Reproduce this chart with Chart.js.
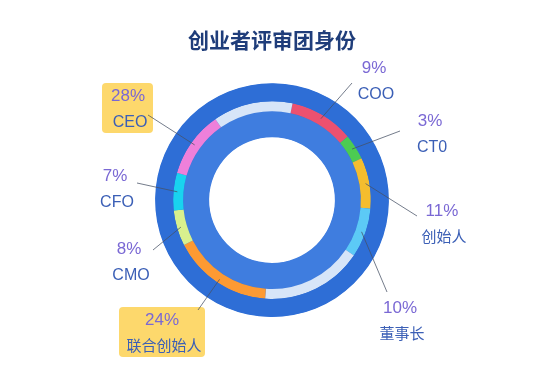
<!DOCTYPE html>
<html>
<head>
<meta charset="utf-8">
<script src="https://cdn.jsdelivr.net/npm/chart.js@4/dist/chart.umd.min.js"></script>
<style>
  html, body { margin: 0; padding: 0; background: #ffffff; }
  #wrap { width: 550px; height: 376px; }
</style>
</head>
<body>
<div id="wrap"><canvas id="myChart" width="550" height="376"></canvas></div>
<script>
const ringLabels = ["COO", "CT0", "创始人", "董事长", "", "联合创始人", "CMO", "CFO", "CEO", ""];
const ringArcs = [38, 15, 30, 29, 60, 59, 21, 22, 39, 47];
const ringColors = ["#ec5170", "#4ccb52", "#f4bd2e", "#5ccaf6", "#d7e5f8", "#fd9a33", "#d8f08e", "#19d3ef", "#ee80da", "#d7e5f8"];

// etiquetas de porcentaje
const roles = ["COO", "CT0", "创始人", "董事长", "CEO", "CFO", "CMO", "联合创始人"];
const shares = [9, 3, 11, 10, 28, 7, 8, 24];
const highlighted = ["CEO", "联合创始人"];

// posición de cada etiqueta (centro del texto %) y extremo de la línea guía
const labelLayout = {
  "COO": { x: 374, y: 68, lx: 352, ly: 83 },
  "CT0": { x: 430, y: 121, lx: 400, ly: 131 },
  "创始人": { x: 442, y: 211, lx: 417, ly: 216 },
  "董事长": { x: 400, y: 308, lx: 387, ly: 292 },
  "CEO": { x: 128, y: 96, lx: 148, ly: 115 },
  "CFO": { x: 115, y: 176, lx: 137, ly: 183 },
  "CMO": { x: 129, y: 249, lx: 153, ly: 250 },
  "联合创始人": { x: 162, y: 320, lx: 198, ly: 310 },
};
const boxes = {
  "CEO": { x: 102, y: 83, w: 51, h: 50 },
  "联合创始人": { x: 119, y: 307, w: 86, h: 50 },
};

const fontFamily = "'Liberation Sans', 'Noto Sans CJK SC', sans-serif";

// disco azul de fondo para que no se vean costuras entre anillos
const fondoPlugin = {
  id: "fondo",
  beforeDatasetsDraw(chart) {
    const arc = chart.getDatasetMeta(0).data[0];
    const inner = chart.getDatasetMeta(2).data[0];
    const ctx = chart.ctx;
    ctx.save();
    ctx.fillStyle = "#2e6ed6";
    ctx.beginPath();
    ctx.arc(arc.x, arc.y, arc.outerRadius - 0.5, 0, Math.PI * 2);
    ctx.arc(arc.x, arc.y, inner.innerRadius + 0.5, 0, Math.PI * 2, true);
    ctx.fill();
    ctx.restore();
  },
};

const etiquetasPlugin = {
  id: "etiquetas",
  afterDatasetsDraw(chart) {
    const ctx = chart.ctx;
    const meta = chart.getDatasetMeta(1);
    ctx.save();
    roles.forEach((role, i) => {
      const pos = labelLayout[role];
      const arc = meta.data[ringLabels.indexOf(role)];
      const mid = (arc.startAngle + arc.endAngle) / 2;
      const r = 95;
      // caja amarilla
      if (highlighted.includes(role)) {
        const b = boxes[role];
        ctx.fillStyle = "#fdd86c";
        ctx.beginPath();
        ctx.roundRect(b.x, b.y, b.w, b.h, 4);
        ctx.fill();
      }
      // línea guía
      ctx.strokeStyle = "rgba(70, 80, 100, 0.75)";
      ctx.lineWidth = 1;
      ctx.beginPath();
      ctx.moveTo(pos.lx, pos.ly);
      ctx.lineTo(arc.x + Math.cos(mid) * r, arc.y + Math.sin(mid) * r);
      ctx.stroke();
      // textos
      ctx.textAlign = "center";
      ctx.textBaseline = "middle";
      ctx.fillStyle = "#7a68d4";
      ctx.font = "17px " + fontFamily;
      ctx.fillText(shares[i] + "%", pos.x, pos.y);
      ctx.fillStyle = "#3b5fb6";
      ctx.font = (/^[A-Z0-9]+$/.test(role) ? "16px " : "15px ") + fontFamily;
      ctx.fillText(role, pos.x + 2, pos.y + 27);
    });
    ctx.restore();
  },
};

function innerGradient(context) {
  const chart = context.chart;
  const meta = chart.getDatasetMeta(2);
  const arc = meta.data[0];
  if (!arc || !arc.x) return "#3f7ddf";
  const g = chart.ctx.createRadialGradient(arc.x, arc.y, arc.innerRadius, arc.x, arc.y, arc.outerRadius);
  g.addColorStop(0, "#5a94e8");
  g.addColorStop(1, "#3674db");
  return g;
}

const ctx = document.getElementById("myChart").getContext("2d");
const miGrafico = new Chart(ctx, {
  type: "doughnut",
  data: {
    labels: ringLabels,
    datasets: [
      {
        data: [360],
        backgroundColor: "#2e6ed6",
        borderWidth: 0,
        weight: 18,
      },
      {
        data: ringArcs,
        backgroundColor: ringColors,
        borderWidth: 0,
        weight: 10,
      },
      {
        data: [360],
        backgroundColor: innerGradient,
        borderWidth: 0,
        weight: 26,
      },
    ],
  },
  options: {
    responsive: false,
    animation: false,
    events: [],
    rotation: 12,
    cutout: "53.8%",
    hoverOffset: 0,
    layout: {
      padding: { left: 155, right: 161, top: 0, bottom: 59 },
    },
    plugins: {
      legend: { display: false },
      tooltip: { enabled: false },
      title: {
        display: true,
        text: "创业者评审团身份",
        color: "#1f3d7a",
        font: { size: 21, weight: "bold", family: "'Noto Sans CJK SC', sans-serif" },
        padding: { top: 27, bottom: 31 },
      },
    },
  },
  plugins: [fondoPlugin, etiquetasPlugin],
});
</script>
</body>
</html>
